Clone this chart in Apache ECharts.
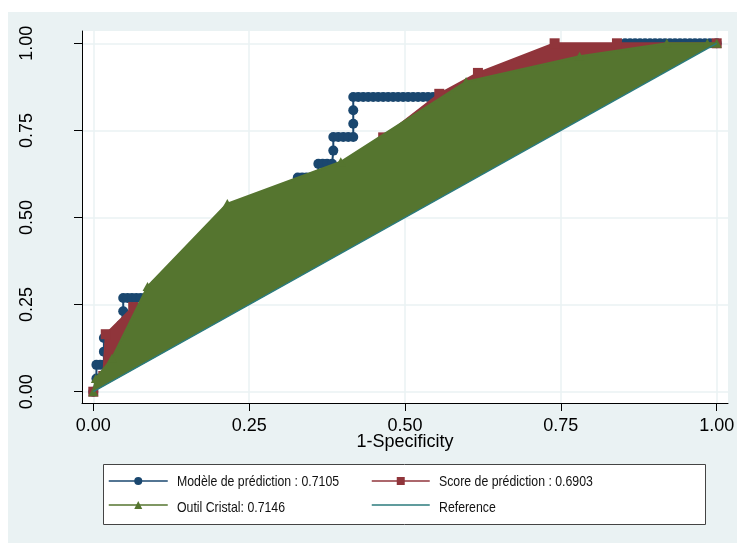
<!DOCTYPE html>
<html>
<head>
<meta charset="utf-8">
<style>
  html, body { margin: 0; padding: 0; background: #ffffff; }
  #chart { width: 737px; height: 543px; }
</style>
<script src="https://cdn.jsdelivr.net/npm/echarts@6/dist/echarts.min.js"></script>
</head>
<body>
<div id="chart"></div>
<script>
// Axis ticks
const tickValues = [0, 0.25, 0.5, 0.75, 1];
const tickLabels = ['0.00', '0.25', '0.50', '0.75', '1.00'];
const xTitle = '1-Specificity';

// Legend entries (curve name and its area under the curve)
const seriesNames = [
  'Modèle de prédiction : 0.7105',
  'Score de prédiction : 0.6903',
  'Outil Cristal: 0.7146',
  'Reference'
];

// Modèle de prédiction: sensitivity levels and the 1-specificity values reached at each level
const blueTprLevels = [
  0, 0.038, 0.077, 0.115, 0.154, 0.192, 0.231, 0.269, 0.308, 0.346, 0.385, 0.423, 0.462,
  0.500, 0.538, 0.577, 0.615, 0.654, 0.692, 0.731, 0.769, 0.808, 0.846, 0.885, 0.923, 0.962, 1.000
];
const blueFprRuns = [
  [0],
  [0.005],
  [0.005, 0.011, 0.017],
  [0.017],
  [0.017, 0.024, 0.031, 0.038, 0.045],
  [0.045],
  [0.048],
  [0.048, 0.055, 0.062, 0.069, 0.076, 0.083, 0.090, 0.100],
  [0.100, 0.108, 0.116, 0.123, 0.130],
  [0.130, 0.138, 0.145, 0.153, 0.160],
  [0.160, 0.168, 0.175, 0.183, 0.190],
  [0.190, 0.198, 0.205, 0.213, 0.220],
  [0.220, 0.228, 0.235, 0.243, 0.250],
  [0.250, 0.258, 0.266, 0.275],
  [0.275, 0.283, 0.291, 0.300],
  [0.300, 0.308, 0.316, 0.328],
  [0.328, 0.335, 0.342, 0.349, 0.355, 0.361],
  [0.361, 0.368, 0.375, 0.383],
  [0.385],
  [0.385, 0.393, 0.401, 0.409, 0.417],
  [0.417],
  [0.417],
  [0.417, 0.425, 0.433, 0.441, 0.449, 0.457, 0.465, 0.473, 0.481, 0.489, 0.497, 0.505, 0.513,
   0.521, 0.529, 0.537, 0.545, 0.553, 0.561, 0.569, 0.577, 0.585, 0.593, 0.601, 0.609, 0.620],
  [0.620, 0.628, 0.636, 0.644, 0.652, 0.660, 0.668, 0.680],
  [0.680, 0.688, 0.696, 0.704, 0.712, 0.720, 0.728, 0.736, 0.744, 0.752, 0.760, 0.768, 0.776,
   0.784, 0.792, 0.800],
  [0.800, 0.808, 0.816, 0.824, 0.832, 0.840, 0.853],
  [0.853, 0.861, 0.869, 0.877, 0.885, 0.893, 0.901, 0.909, 0.917, 0.925, 0.933, 0.941, 0.949,
   0.957, 0.965, 0.973, 0.981, 0.989, 1.000]
];

// Score de prédiction
const redFpr = [0, 0.016, 0.020, 0.064, 0.300, 0.465, 0.555, 0.617, 0.740, 0.840, 1.000];
const redTpr = [0, 0.045, 0.165, 0.243, 0.440, 0.730, 0.855, 0.915, 1.000, 1.000, 1.000];

// Outil Cristal
const greenFpr = [0, 0.004, 0.030, 0.087, 0.215, 0.397, 0.598, 0.780, 0.920, 0.985, 1.000];
const greenTpr = [0, 0.038, 0.096, 0.302, 0.540, 0.660, 0.890, 0.963, 1.000, 1.000, 1.000];

// Chance diagonal
const refFpr = [0, 1];
const refTpr = [0, 1];

const COLORS = { blue: '#1a476f', red: '#90353b', green: '#55752f', ref: '#2b7b7d' };
const FONT = "'Liberation Sans', Arial, sans-serif";

const pairs = (xs, ys) => xs.map((x, i) => [x, ys[i]]);
const bluePoints = [];
blueFprRuns.forEach((run, k) => run.forEach(x => bluePoints.push([x, blueTprLevels[k]])));

// Filled region enclosed by a curve and the diagonal (the path closes from (1,1) back to (0,0))
function fillSeries(points, color, z) {
  return {
    type: 'custom',
    silent: true,
    z: z,
    clip: true,
    data: points,
    renderItem: function (params, api) {
      if (params.dataIndex !== 0) return null;
      return {
        type: 'polygon',
        shape: { points: points.map(p => api.coord(p)) },
        style: { fill: color }
      };
    }
  };
}

function curveSeries(name, points, color, symbol, size, z) {
  return {
    type: 'line',
    name: name,
    data: points,
    symbol: symbol,
    symbolSize: size,
    showAllSymbol: true,
    clip: true,
    z: z,
    itemStyle: { color: color },
    lineStyle: { color: color, width: 2 },
    emphasis: { disabled: true }
  };
}

const redPoints = pairs(redFpr, redTpr);
const greenPoints = pairs(greenFpr, greenTpr);

// Legend keys come from the legend component; their captions are set in a narrow face
const legendCommon = {
  orient: 'vertical',
  top: 477,
  itemHeight: 10,
  itemGap: 16,
  selectedMode: false,
  padding: 0,
  lineStyle: { width: 1.5 },
  formatter: () => '',
  textStyle: { fontSize: 10, lineHeight: 10 }
};
const legendCaptions = [
  { name: seriesNames[0], x: 177, y: 482 },
  { name: seriesNames[1], x: 439, y: 482 },
  { name: seriesNames[2], x: 177, y: 508 },
  { name: seriesNames[3], x: 439, y: 508 }
];

const chart = echarts.init(document.getElementById('chart'), null, { renderer: 'canvas' });

chart.setOption({
  animation: false,
  backgroundColor: '#ffffff',
  textStyle: { fontFamily: FONT },
  graphic: [
    { type: 'rect', silent: true, z: -10, shape: { x: 8, y: 12, width: 729, height: 531 }, style: { fill: '#eaf2f3' } },
    { type: 'rect', silent: true, z: 1, shape: { x: 103.5, y: 464.5, width: 602, height: 60 },
      style: { fill: '#ffffff', stroke: '#444444', lineWidth: 1 } }
  ].concat(legendCaptions.map(c => ({
    type: 'text', silent: true, z: 10, x: c.x, y: c.y, scaleX: 0.82,
    style: { text: c.name, fontFamily: FONT, fontSize: 15, fill: '#111111', verticalAlign: 'middle', align: 'left' }
  }))),
  grid: {
    left: 82, top: 31, width: 646, height: 372,
    show: true, backgroundColor: '#ffffff', borderWidth: 0,
    containLabel: false, outerBoundsMode: 'none'
  },
  xAxis: {
    type: 'value', min: -0.01813, max: 1.01813,
    name: xTitle, nameLocation: 'middle', nameGap: 30, nameMoveOverlap: false,
    nameTextStyle: { fontSize: 18, color: '#000', fontFamily: FONT },
    axisLine: { show: true, onZero: false, lineStyle: { color: '#000', width: 1 } },
    axisTick: { show: true, length: 8, customValues: tickValues, lineStyle: { color: '#000', width: 1 } },
    axisLabel: { show: true, customValues: tickValues, margin: 14, fontSize: 18, color: '#000', fontFamily: FONT,
      formatter: v => tickLabels[tickValues.indexOf(v)] ?? '' },
    splitLine: { show: true, lineStyle: { color: '#eaf2f3', width: 1.5 } }
  },
  yAxis: {
    type: 'value', min: -0.03243, max: 1.0353,
    axisLine: { show: true, onZero: false, lineStyle: { color: '#000', width: 1 } },
    axisTick: { show: true, length: 8, customValues: tickValues, lineStyle: { color: '#000', width: 1 } },
    axisLabel: { show: true, customValues: tickValues, rotate: 90, margin: 46, fontSize: 18, color: '#000', fontFamily: FONT,
      formatter: v => tickLabels[tickValues.indexOf(v)] ?? '' },
    splitLine: { show: true, lineStyle: { color: '#eaf2f3', width: 1.5 } }
  },
  legend: [
    Object.assign({}, legendCommon, { left: 108, itemWidth: 59, data: [seriesNames[0], seriesNames[2]] }),
    Object.assign({}, legendCommon, { left: 371, itemWidth: 58,
      data: [seriesNames[1], { name: seriesNames[3], itemStyle: { opacity: 0 } }] })
  ],
  series: [
    curveSeries(seriesNames[0], bluePoints, COLORS.blue, 'circle', 10, 2),
    fillSeries(redPoints, COLORS.red, 3),
    curveSeries(seriesNames[1], redPoints, COLORS.red, 'rect', 10, 4),
    fillSeries(greenPoints, COLORS.green, 5),
    curveSeries(seriesNames[2], greenPoints, COLORS.green, 'triangle', [10, 9], 6),
    {
      type: 'line', name: seriesNames[3], data: pairs(refFpr, refTpr), symbol: 'none', z: 7,
      itemStyle: { color: COLORS.ref }, lineStyle: { color: COLORS.ref, width: 1.5 }, emphasis: { disabled: true }
    }
  ]
});
</script>
</body>
</html>
